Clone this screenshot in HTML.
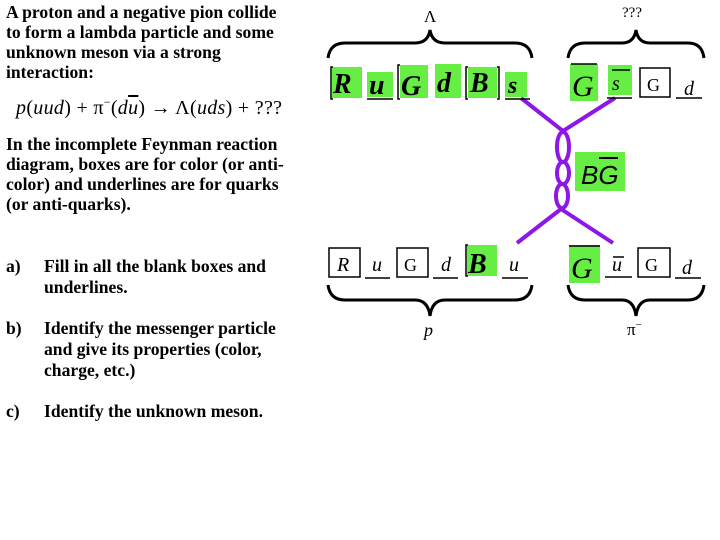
<!DOCTYPE html>
<html><head><meta charset="utf-8"><style>
body{margin:0;background:#fff;width:720px;height:540px;overflow:hidden;position:relative}
svg{display:block}
.b{font-family:"Liberation Serif",serif;font-weight:bold;font-size:17.6px;fill:#000}
#f{position:absolute;left:16px;top:95px;font-family:"Liberation Serif",serif;font-size:20px;white-space:nowrap;letter-spacing:0.3px}
#f i{font-style:italic}
#f sup{font-size:12px;vertical-align:8px}
</style></head><body>
<div id="f"><i>p</i>(<i>uud</i>) + π<sup>−</sup>(<i>d<span style="text-decoration:overline">u</span></i>) → Λ(<i>uds</i>) + ???</div>
<svg width="720" height="540" xmlns="http://www.w3.org/2000/svg">
<g class="b">
<text x="6" y="18">A proton and a negative pion collide</text>
<text x="6" y="38">to form a lambda particle and some</text>
<text x="6" y="58">unknown meson via a strong</text>
<text x="6" y="78">interaction:</text>
<text x="6" y="150">In the incomplete Feynman reaction</text>
<text x="6" y="170">diagram, boxes are for color (or anti-</text>
<text x="6" y="190">color) and underlines are for quarks</text>
<text x="6" y="210">(or anti-quarks).</text>
<text x="6" y="272">a)</text><text x="44" y="272">Fill in all the blank boxes and</text>
<text x="44" y="293">underlines.</text>
<text x="6" y="334">b)</text><text x="44" y="334">Identify the messenger particle</text>
<text x="44" y="355">and give its properties (color,</text>
<text x="44" y="376">charge, etc.)</text>
<text x="6" y="417">c)</text><text x="44" y="417">Identify the unknown meson.</text>
</g>

<!-- braces -->
<g fill="none" stroke="#000" stroke-width="3">
<path d="M328 58 Q330 43 345 43 L415 43 Q428 43 430 30 Q432 43 445 43 L515 43 Q530 43 532 58"/>
<path d="M568 58 Q570 43 585 43 L622 43 Q634 43 636 30 Q638 43 650 43 L688 43 Q702 43 704 58"/>
<path d="M328 285 Q330 300 345 300 L415 300 Q428 300 430 316 Q432 300 445 300 L515 300 Q530 300 532 285"/>
<path d="M568 285 Q570 300 585 300 L622 300 Q634 300 636 316 Q638 300 650 300 L688 300 Q702 300 704 285"/>
</g>
<text x="424" y="22" font-family="Liberation Serif,serif" font-size="17">Λ</text>
<text x="622" y="17" font-family="Liberation Serif,serif" font-size="15">???</text>
<text x="424" y="336" font-family="Liberation Serif,serif" font-style="italic" font-size="18">p</text>
<text x="627" y="335" font-family="Liberation Serif,serif" font-size="17">π<tspan dy="-7" font-size="11">−</tspan></text>

<!-- purple -->
<g stroke="#8d17e6" stroke-width="4" fill="none">
<line x1="521" y1="98" x2="563" y2="131"/>
<line x1="615" y1="98" x2="563" y2="131"/>
<ellipse cx="563" cy="147" rx="6" ry="15"/>
<ellipse cx="563" cy="173" rx="6" ry="11"/>
<ellipse cx="562" cy="196" rx="6" ry="12"/>
<line x1="561" y1="209" x2="517" y2="243"/>
<line x1="561" y1="209" x2="613" y2="243"/>
</g>
<rect x="575" y="152" width="50" height="39" fill="#66ee44"/>
<text x="581" y="184" font-family="Liberation Sans,sans-serif" font-style="italic" font-size="26">BG</text>
<line x1="599" y1="158" x2="618" y2="158" stroke="#000" stroke-width="2"/>

<g fill="#66ee44">
<rect x="332" y="67" width="30" height="31"/><rect x="367" y="72" width="26" height="25"/>
<rect x="400" y="65" width="28" height="33"/><rect x="435" y="64" width="26" height="34"/>
<rect x="468" y="67" width="29" height="31"/><rect x="505" y="72" width="22" height="25"/>
<rect x="570" y="64" width="28" height="37"/><rect x="608" y="65" width="24" height="30"/>
<rect x="467" y="245" width="30" height="31"/><rect x="569" y="245" width="31" height="38"/>
</g>
<g stroke="#000" stroke-width="1.5" fill="none">
<path d="M333 67 h-2 v32 h2"/><path d="M400 65 h-2 v34 h2"/><path d="M468 67 h-2 v32 h2"/><path d="M497 67 h2 v32 h-2"/>
<line x1="367" y1="99" x2="393" y2="99"/><line x1="505" y1="99" x2="530" y2="99"/>
<line x1="607" y1="98" x2="632" y2="98"/><line x1="676" y1="98" x2="702" y2="98"/>
<rect x="640" y="68" width="30" height="29"/>
<line x1="571" y1="64" x2="597" y2="64"/><line x1="612" y1="70" x2="630" y2="70"/>
<rect x="329" y="248" width="31" height="29"/><rect x="397" y="248" width="31" height="29"/>
<rect x="638" y="248" width="32" height="29"/>
<path d="M468 245 h-2 v31 h2"/>
<line x1="365" y1="278" x2="390" y2="278"/><line x1="433" y1="278" x2="458" y2="278"/>
<line x1="502" y1="278" x2="528" y2="278"/><line x1="605" y1="277" x2="632" y2="277"/>
<line x1="675" y1="278" x2="701" y2="278"/><line x1="569" y1="246" x2="600" y2="246"/>
<line x1="613" y1="257" x2="624" y2="257"/>
</g>
<g font-family="Liberation Serif,serif" font-style="italic" font-weight="bold" font-size="28">
<text x="333" y="93">R</text><text x="369" y="94">u</text><text x="401" y="95">G</text>
<text x="437" y="92">d</text><text x="470" y="92">B</text><text x="508" y="93" font-size="24">s</text>
<text x="468" y="273">B</text>
</g>
<g font-family="Liberation Serif,serif" font-style="italic" font-size="20">
<text x="572" y="96" font-size="30">G</text><text x="612" y="90">s</text><text x="647" y="91" font-style="normal" font-size="18">G</text><text x="684" y="95">d</text>
<text x="337" y="271">R</text><text x="372" y="271">u</text><text x="404" y="271" font-style="normal" font-size="18">G</text><text x="441" y="271">d</text><text x="509" y="271">u</text>
<text x="571" y="278" font-size="30">G</text><text x="612" y="271">u</text><text x="645" y="271" font-style="normal" font-size="18">G</text><text x="682" y="274">d</text>
</g>
</svg>
</body></html>
